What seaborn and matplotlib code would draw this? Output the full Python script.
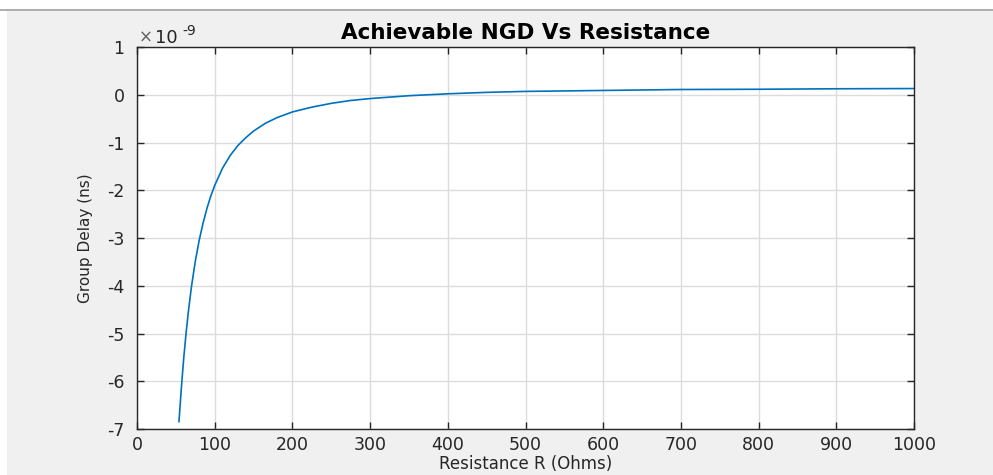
import matplotlib
matplotlib.use("Agg")
import matplotlib.pyplot as plt
from matplotlib.patches import Rectangle
from matplotlib.lines import Line2D
from matplotlib.ticker import FuncFormatter
import seaborn as sns
import pandas as pd

# Resistance sweep (Ohms) and the resulting group delay (seconds)
resistance = [54, 57, 60, 63, 66, 70, 75, 80, 85, 90, 95, 100, 110, 120, 130,
              140, 150, 165, 180, 200, 225, 250, 275, 300, 350, 400, 450, 500,
              600, 700, 800, 900, 1000]
group_delay_ns = [-6.85, -6.16, -5.54, -5.02, -4.56, -4.03, -3.49, -3.05, -2.69,
                  -2.38, -2.12, -1.90, -1.54, -1.27, -1.06, -0.90, -0.76, -0.60,
                  -0.48, -0.36, -0.26, -0.18, -0.12, -0.08, -0.02, 0.02, 0.05,
                  0.07, 0.09, 0.11, 0.115, 0.125, 0.13]
group_delay = [v * 1e-9 for v in group_delay_ns]

x_ticks = [0, 100, 200, 300, 400, 500, 600, 700, 800, 900, 1000]
y_ticks = [-7e-9, -6e-9, -5e-9, -4e-9, -3e-9, -2e-9, -1e-9, 0, 1e-9]

df = pd.DataFrame({"R": resistance, "GD": group_delay})

sns.set_style("white")
plt.rcParams["font.family"] = ["DejaVu Sans"]
plt.rcParams["axes.unicode_minus"] = False

TXT = "#262626"
fig = plt.figure(figsize=(9.93, 4.75), dpi=100, facecolor="white")

# grey window panel with a thin border on top
W, H = 993, 475
fig.patches.append(Rectangle((7 / W, 0), 1 - 7 / W, 1 - 10 / H, transform=fig.transFigure,
                             facecolor="#f0f0f0", edgecolor="none", zorder=-10))
fig.lines.append(Line2D([0, 1], [1 - 10 / H, 1 - 10 / H], transform=fig.transFigure,
                        color="#a0a0a0", lw=1.2, zorder=-9))

ax = fig.add_axes([137 / W, 1 - 429 / H, (914 - 137) / W, (429 - 47) / H])
ax.set_facecolor("white")

sns.lineplot(data=df, x="R", y="GD", ax=ax, color="#0072BD", linewidth=1.2,
             estimator=None, sort=False)

ax.set_xlim(0, 1000)
ax.set_ylim(-7e-9, 1e-9)
ax.set_xticks(x_ticks)
ax.set_yticks(y_ticks)
ax.yaxis.set_major_formatter(FuncFormatter(lambda v, _: f"{round(v * 1e9):d}"))

ax.grid(True, color="#dcdcdc", linewidth=1.0)
ax.set_axisbelow(True)
for s in ax.spines.values():
    s.set_visible(True)
    s.set_color(TXT)
    s.set_linewidth(1.0)

ax.tick_params(axis="both", which="major", direction="in", length=5, width=1,
               color=TXT, labelcolor=TXT, labelsize=12.5,
               top=True, right=True, bottom=True, left=True)
ax.tick_params(axis="x", pad=5)
ax.tick_params(axis="y", pad=9)

# exponent marker above the y axis
fig.text(139 / W, 1 - 43 / H, "×", fontsize=12, color="#606060", ha="left", va="baseline")
fig.text(155 / W, 1 - 43 / H, "10", fontsize=13, color=TXT, ha="left", va="baseline")
fig.text(182 / W, 1 - 35 / H, "-9", fontsize=10, color=TXT, ha="left", va="baseline")

ax.set_title("Achievable NGD Vs Resistance", fontsize=15.5, fontweight="bold",
             color="black", pad=6)
ax.set_xlabel("Resistance R (Ohms)", fontsize=12, color=TXT)
ax.set_ylabel("Group Delay (ns)", fontsize=11, color=TXT)
ax.xaxis.set_label_coords(0.5, -0.068)
ax.yaxis.set_label_coords((93 - 137) / 777, 0.5)

fig.savefig("out.png", dpi=100, facecolor=fig.get_facecolor())
